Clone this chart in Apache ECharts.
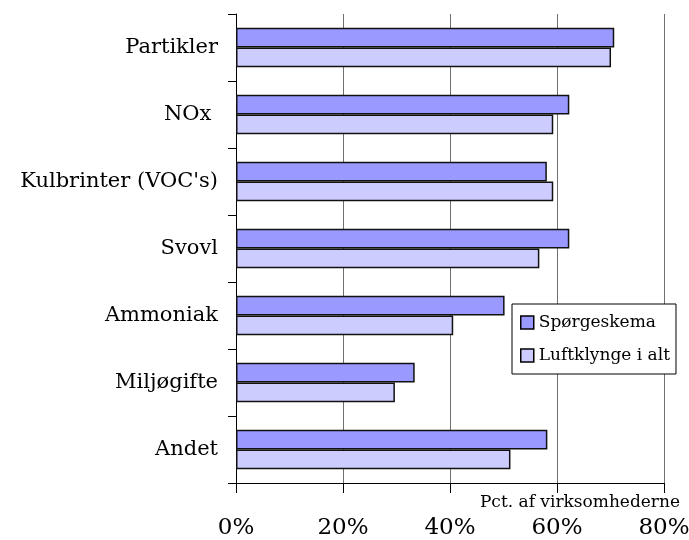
<!DOCTYPE html>
<html>
<head>
    <meta charset="utf-8">
    <title>Luftklynge</title>
    <script src="https://cdn.jsdelivr.net/npm/echarts@6/dist/echarts.min.js"></script>
    <style>
        body { margin: 0; background: #fff; }
    </style>
</head>
<body>
    <div id="chart" style="width:689px; height:540px;"></div>
    <script>
        var categories = ['Partikler', 'NOx ', "Kulbrinter (VOC's)", 'Svovl', 'Ammoniak', 'Miljøgifte', 'Andet'];
        var spoergeskema = [70.7, 62.3, 58.1, 62.3, 50.2, 33.4, 58.2];
        var luftklynge = [70.1, 59.3, 59.3, 56.7, 40.6, 29.7, 51.3];
        var xTicks = [0, 20, 40, 60, 80];

        var font = '"DejaVu Serif", "Liberation Serif", serif';

        var chart = echarts.init(document.getElementById('chart'));
        var option = {
            animation: false,
            title: {
                text: 'Pct. af virksomhederne',
                right: 4,
                top: 489,
                textStyle: { fontFamily: font, fontSize: 17, fontWeight: 'normal', color: '#000' }
            },
            legend: {
                orient: 'vertical',
                left: 512,
                top: 304,
                itemWidth: 13,
                itemHeight: 13,
                itemGap: 16,
                padding: [10, 6, 10, 8],
                borderColor: '#000',
                borderWidth: 1,
                backgroundColor: '#fff',
                icon: 'rect',
                itemStyle: { borderColor: '#000', borderWidth: 1.5 },
                textStyle: { fontFamily: font, fontSize: 17, color: '#000' },
                data: ['Spørgeskema', 'Luftklynge i alt']
            },
            grid: {
                left: 236,
                right: 25,
                top: 14,
                bottom: 57,
                outerBoundsMode: 'none'
            },
            xAxis: {
                type: 'value',
                min: xTicks[0],
                max: xTicks[xTicks.length - 1],
                interval: 20,
                axisLine: { show: true, lineStyle: { color: '#000', width: 1 } },
                axisTick: { show: true, length: 10, lineStyle: { color: '#000' } },
                axisLabel: {
                    margin: 34,
                    formatter: '{value}%',
                    fontFamily: font,
                    fontSize: 23,
                    color: '#000'
                },
                splitLine: { show: true, lineStyle: { color: '#707070', width: 1 } }
            },
            yAxis: {
                type: 'category',
                inverse: true,
                data: categories,
                axisLine: { show: true, lineStyle: { color: '#000', width: 1 } },
                axisTick: { show: true, length: 8, lineStyle: { color: '#000' } },
                axisLabel: {
                    margin: 18,
                    fontFamily: font,
                    fontSize: 21,
                    color: '#000'
                }
            },
            series: [
                {
                    name: 'Spørgeskema',
                    type: 'bar',
                    data: spoergeskema,
                    barGap: '0%',
                    barCategoryGap: '41%',
                    itemStyle: { color: '#9999FF', borderColor: '#111', borderWidth: 1.5 }
                },
                {
                    name: 'Luftklynge i alt',
                    type: 'bar',
                    data: luftklynge,
                    barGap: '0%',
                    barCategoryGap: '41%',
                    itemStyle: { color: '#CCCCFF', borderColor: '#111', borderWidth: 1.5 }
                }
            ]
        };
        chart.setOption(option);
    </script>
</body>
</html>
